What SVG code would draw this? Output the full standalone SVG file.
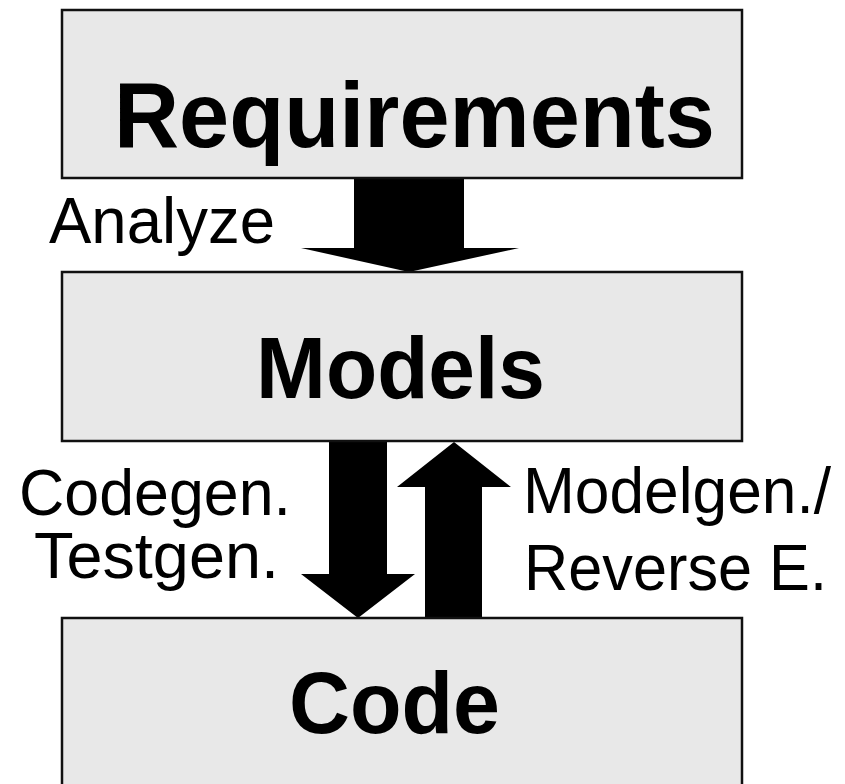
<svg xmlns="http://www.w3.org/2000/svg" width="845" height="784" viewBox="0 0 845 784">
<style>
.box{fill:#e8e8e8;stroke:#111;stroke-width:2.5}
.title{font-family:"Liberation Sans",Arial,Helvetica,sans-serif;font-weight:bold;fill:#000}
.lbl{font-family:"Liberation Sans",Arial,Helvetica,sans-serif;font-size:64px;fill:#000}
.arrow{fill:#000;stroke:none}
</style>
<rect width="845" height="784" fill="#fff"/>
<g id="connectors">
<polygon class="arrow" points="354,178 464,178 464,248 519,248 409,272 301,248 354,248"/>
<polygon class="arrow" points="329,440 387,440 387,574 415,574 358,618 301,574 329,574"/>
<polygon class="arrow" points="425,618 482,618 482,487 511,487 454,442 397,487 425,487"/>
</g>
<g id="requirements">
<rect class="box" x="62" y="10" width="680" height="168"/>
<text class="title" x="114" y="147" font-size="92" textLength="601" lengthAdjust="spacingAndGlyphs">Requirements</text>
</g>
<g id="models">
<rect class="box" x="62" y="272" width="680" height="169"/>
<text class="title" x="256" y="398" font-size="88" textLength="289" lengthAdjust="spacingAndGlyphs">Models</text>
</g>
<g id="code">
<rect class="box" x="62" y="618" width="680" height="190"/>
<text class="title" x="289" y="733" font-size="88" textLength="211" lengthAdjust="spacingAndGlyphs">Code</text>
</g>
<g id="labels">
<text class="lbl" x="49" y="243" textLength="226" lengthAdjust="spacingAndGlyphs">Analyze</text>
<text class="lbl" x="19" y="515" textLength="272" lengthAdjust="spacingAndGlyphs">Codegen.</text>
<text class="lbl" x="34" y="578" textLength="245" lengthAdjust="spacingAndGlyphs">Testgen.</text>
<text class="lbl" x="523" y="513" textLength="308" lengthAdjust="spacingAndGlyphs">Modelgen./</text>
<text class="lbl" x="524" y="590" textLength="303" lengthAdjust="spacingAndGlyphs">Reverse E.</text>
</g>
</svg>
